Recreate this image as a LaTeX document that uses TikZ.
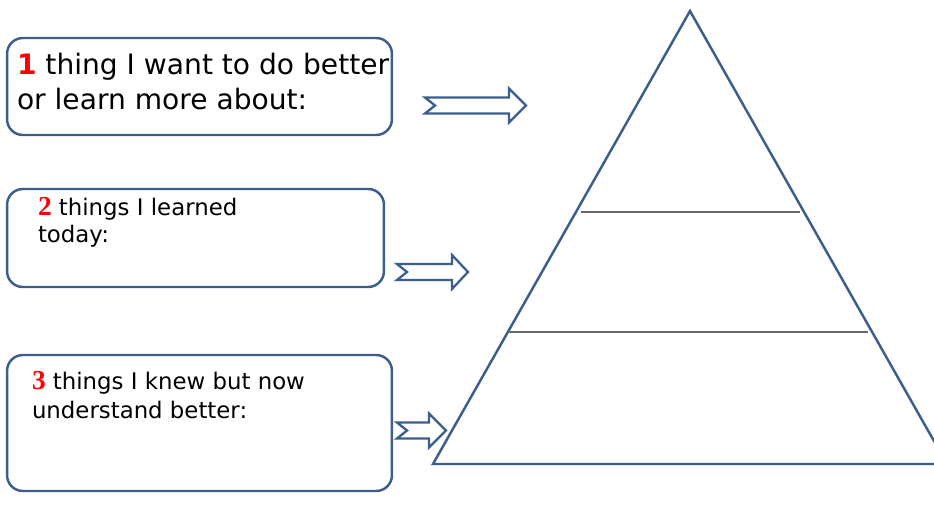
\documentclass[tikz,border=0pt]{standalone}
\usepackage{fontspec}
\setmainfont{DejaVu Sans}
\newfontfamily\numserif[Scale=1.2]{Liberation Serif}
\usetikzlibrary{arrows.meta}
\definecolor{frameblue}{HTML}{3B5E8C}
\definecolor{numred}{HTML}{FF0000}
\tikzset{
  base/.style={align=left, inner sep=0pt, outer sep=0mm, anchor=base west},
  card/.style={rectangle, draw=frameblue, line width=1.4pt, rounded corners=9pt, fill=white},
  fat/.style={draw=frameblue, line width=1.3pt, fill=white, line join=miter},
  level/.style={draw=black!60, line width=0.8pt}
}
% block arrow: tail x, head x, tip x, centre y
\newcommand{\fatarrow}[4]{%
  \draw[fat] (#1,#4-8) -- (#2,#4-8) -- (#2,#4-17) -- (#3,#4) -- (#2,#4+17)
    -- (#2,#4+8) -- (#1,#4+8) -- (#1+10,#4) -- cycle;}
\newcommand{\bignum}[1]{\textcolor{numred}{\textbf{#1}}}
\newcommand{\sernum}[1]{\textcolor{numred}{\numserif\bfseries #1}}

\begin{document}
\begin{tikzpicture}[x=0.02cm, y=-0.02cm]
    \useasboundingbox (0,0) rectangle (934,510);
    \clip (0,0) rectangle (934,510);

    % boxes on the left
    \node[card, minimum width=7.7cm, minimum height=1.94cm] (one) at (199.5,86.5) {};
    \node[card, minimum width=7.54cm, minimum height=1.96cm] (two) at (195.5,238) {};
    \node[card, minimum width=7.7cm, minimum height=2.72cm] (three) at (199.5,423) {};

    % the base anchor sits on the last line
    \node[base, font=\fontsize{16}{20}\selectfont] (onetext) at (17,110)
        {\bignum{1} thing I want to do better\\or learn more about:};
    \node[base, font=\fontsize{13}{15.3}\selectfont] (twotext) at (38,242)
        {\sernum{2} things I learned\\today:};
    \node[base, font=\fontsize{13}{16.4}\selectfont] (threetext) at (32,418)
        {\sernum{3} things I knew but now\\understand better:};

    % arrows
    \fatarrow{425}{509}{526}{105.5}
    \fatarrow{397}{452}{468}{272}
    \fatarrow{397}{429}{446}{430.5}

    % pyramid
    \coordinate (apex) at (690,11);
    \coordinate (left) at (433,464);
    \coordinate (right) at (947,464);
    \draw[frameblue, line width=1.4pt, line join=miter] (apex) -- (left) -- (right) -- cycle;
    \draw[level] (581,212) -- (800,212);
    \draw[level] (508,332) -- (868,332);
\end{tikzpicture}
\end{document}
